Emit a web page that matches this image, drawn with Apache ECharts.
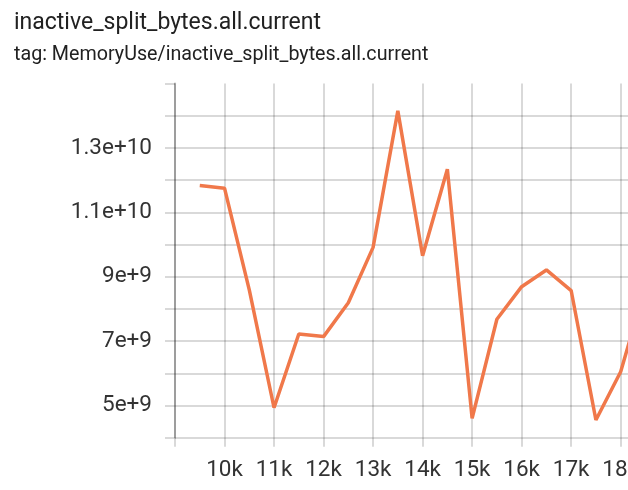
<!DOCTYPE html>
<html>
<head>
<meta charset="utf-8">
<script src="https://cdn.jsdelivr.net/npm/echarts@6/dist/echarts.min.js"></script>
<style>
html,body{margin:0;padding:0;overflow:hidden;background:#fff;width:628px;height:490px;}
#c{width:700px;height:490px;}
</style>
</head>
<body>
<div id="c"></div>
<script>
var titleText = 'inactive_split_bytes.all.current';
var subtitleText = 'tag: MemoryUse/inactive_split_bytes.all.current';
var steps = [9500, 10000, 10500, 11000, 11500, 12000, 12500, 13000, 13500, 14000, 14500, 15000, 15500, 16000, 16500, 17000, 17500, 18000, 18500];
var values = [1.183e10, 1.175e10, 8.59e9, 4.93e9, 7.22e9, 7.14e9, 8.19e9, 9.91e9, 1.415e10, 9.65e9, 1.234e10, 4.6e9, 7.68e9, 8.69e9, 9.21e9, 8.57e9, 4.55e9, 6.05e9, 8.7e9];
var yLabeled = [5e9, 7e9, 9e9, 1.1e10, 1.3e10];
var xHidden = [9000];

var FONT = 'Roboto';
var chart = echarts.init(document.getElementById('c'), null, {renderer: 'canvas'});
var data = steps.map(function (s, i) { return [s, values[i]]; });

function fmtY(v) {
  if (yLabeled.indexOf(v) < 0) return '';
  var e = Math.floor(Math.log10(v) + 1e-9);
  var m = v / Math.pow(10, e);
  var ms = (Math.round(m * 10) / 10).toString();
  return ms + 'e+' + e;
}

var GRID = 'rgba(0,0,0,0.15)';
chart.setOption({
  animation: false,
  title: [{
    text: titleText,
    left: 9, top: 7,
    textStyle: {fontFamily: FONT, fontSize: 23, fontWeight: 'normal', color: '#212121'}
  }, {
    text: subtitleText,
    left: 9, top: 40,
    textStyle: {fontFamily: FONT, fontSize: 19.7, fontWeight: 'normal', color: '#212121'}
  }],
  grid: {left: 175, right: 29.8, top: 83.5, bottom: 52.3, containLabel: false},
  xAxis: {
    type: 'value', min: 9000, max: 19000, interval: 1000,
    axisLine: {show: false},
    axisTick: {show: true, inside: false, length: 9, lineStyle: {color: GRID, width: 2}},
    splitLine: {show: true, lineStyle: {color: GRID, width: 2}},
    axisLabel: {
      margin: 21, fontFamily: FONT, fontSize: 22.5, color: '#333',
      formatter: function (v) { return xHidden.indexOf(v) >= 0 ? '' : (v / 1000) + 'k'; }
    }
  },
  yAxis: {
    type: 'value', min: 4e9, max: 1.5e10, interval: 1e9,
    axisLine: {show: true, lineStyle: {color: 'rgba(0,0,0,0.28)', width: 2}},
    axisTick: {show: true, inside: false, length: 10, lineStyle: {color: GRID, width: 2}},
    splitLine: {show: true, showMaxLine: false, lineStyle: {color: GRID, width: 2}},
    axisLabel: {
      margin: 23, fontFamily: FONT, fontSize: 22.5, color: '#333',
      padding: [4, 0, 0, 0],
      formatter: fmtY
    }
  },
  series: [{
    type: 'line', data: data, showSymbol: false, symbol: 'none',
    lineStyle: {color: '#f0784a', width: 3.5},
    itemStyle: {color: '#f0784a'}
  }]
});
</script>
</body>
</html>
